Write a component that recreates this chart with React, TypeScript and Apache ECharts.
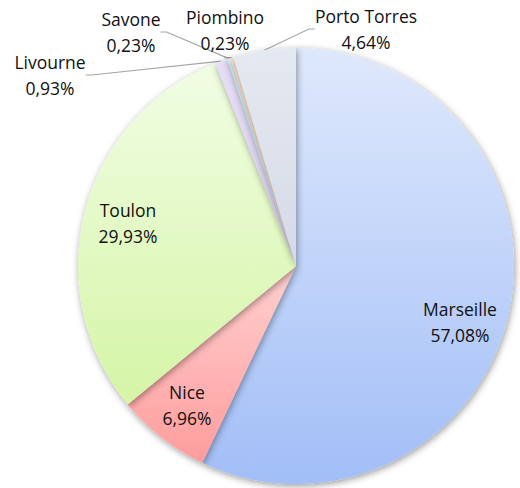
import React, { useEffect, useRef } from "react";
import * as echarts from "echarts";

const categories = ["Marseille", "Nice", "Toulon", "Livourne", "Savone", "Piombino", "Porto Torres"];
const values = [57.08, 6.96, 29.93, 0.93, 0.23, 0.23, 4.64];
const topColors = ["#dfe9fc", "#ffd0d0", "#f1fde4", "#e6def6", "#d6f2fb", "#fde2ca", "#e5e9f1"];
const bottomColors = ["#a2bef7", "#ff9c9c", "#d5f5a6", "#d8ccef", "#bde7f7", "#fbcda5", "#d4dae7"];
// label centres (layout)
const labelPos: [number, number][] = [
  [460, 322],
  [187, 405],
  [128, 223],
  [50, 75],
  [131, 32],
  [225, 30],
  [366, 29],
];
const outside = [false, false, false, true, true, true, true];

const FONT = "'Open Sans', Lato, sans-serif";

export default function App() {
  const ref = useRef<HTMLDivElement>(null);
  useEffect(() => {
    if (!ref.current) return;
    const chart = echarts.init(ref.current, null, { renderer: "svg" });
    const data = categories.map((name, i) => ({
      name,
      value: values[i],
      itemStyle: {
        color: new echarts.graphic.LinearGradient(0, 0, 0, 1, [
          { offset: 0, color: topColors[i] },
          { offset: 1, color: bottomColors[i] },
        ]),
      },
      label: { position: outside[i] ? "outside" : "inside" },
      labelLine: { show: outside[i] },
    }));
    chart.setOption({
      animation: false,
      backgroundColor: "#ffffff",
      series: [
        {
          type: "pie",
          center: [296, 266],
          radius: [0, 218],
          startAngle: 90,
          clockwise: true,
          avoidLabelOverlap: false,
          data,
          itemStyle: {
            borderWidth: 0,
            shadowBlur: 7,
            shadowColor: "rgba(0,0,0,0.4)",
            shadowOffsetX: 1,
            shadowOffsetY: 2,
          },
          label: {
            show: true,
            color: "#111111",
            fontFamily: FONT,
            fontSize: 17.5,
            lineHeight: 26,
            align: "center",
            formatter: (p: any) =>
              p.name + "\n" + Number(p.value).toFixed(2).replace(".", ",") + "%",
          },
          labelLine: {
            show: true,
            length: 4,
            length2: 6,
            lineStyle: { color: "#a6a6a6", width: 1.2 },
          },
          labelLayout: (p: any) => {
            const pos = labelPos[p.dataIndex];
            return { x: pos[0], y: pos[1], align: "center", verticalAlign: "middle" };
          },
        },
      ],
    });
    return () => chart.dispose();
  }, []);
  return (
    <div
      ref={ref}
      style={{ position: "fixed", left: 0, top: 0, width: 520, height: 488 }}
    />
  );
}
